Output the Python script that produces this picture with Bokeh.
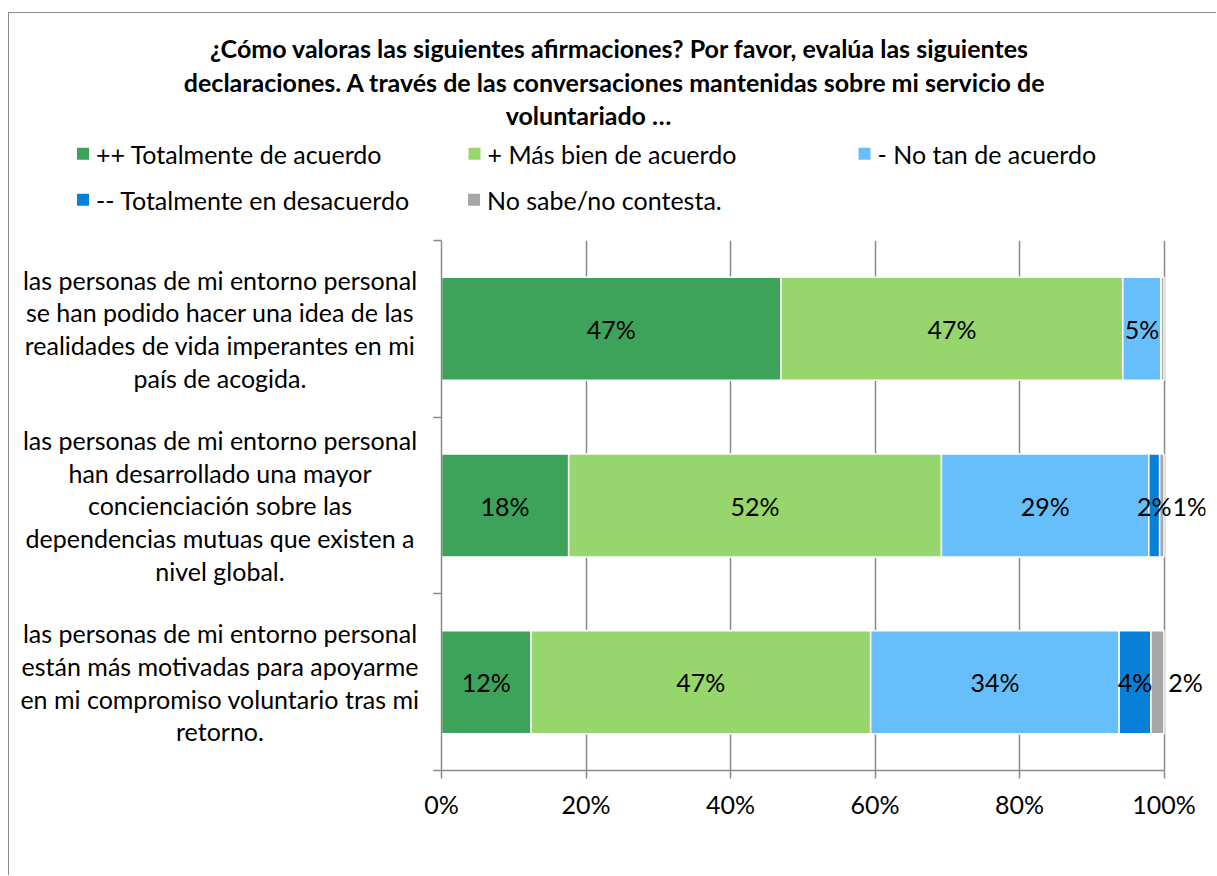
from bokeh.plotting import figure
from bokeh.layouts import column, row
from bokeh.models import (ColumnDataSource, Range1d, FixedTicker, LabelSet,
                          CustomJSTickFormatter)
from bokeh.core.properties import value
from bokeh.embed import file_html
from bokeh.resources import INLINE

# ---------------- data ----------------
title_lines = [
    "¿Cómo valoras las siguientes afirmaciones? Por favor, evalúa las siguientes",
    "declaraciones. A través de las conversaciones mantenidas sobre mi servicio de",
    "voluntariado …",
]
categories = [
    "las personas de mi entorno personal\nse han podido hacer una idea de las\nrealidades de vida imperantes en mi\npaís de acogida.",
    "las personas de mi entorno personal\nhan desarrollado una mayor\nconcienciación sobre las\ndependencias mutuas que existen a\nnivel global.",
    "las personas de mi entorno personal\nestán más motivadas para apoyarme\nen mi compromiso voluntario tras mi\nretorno.",
]
series_names = ["++ Totalmente de acuerdo", " + Más bien de acuerdo", " - No tan de acuerdo",
                " -- Totalmente en desacuerdo", "No sabe/no contesta."]
totalmente = [47.0, 17.6, 12.4]
mas_bien = [47.3, 51.6, 47.0]
no_tan = [5.3, 28.7, 34.4]
desacuerdo = [0.0, 1.5, 4.4]
no_sabe = [0.4, 0.6, 1.8]
x_ticks = [0, 20, 40, 60, 80, 100]
colors = ["#3DA35A", "#97D66C", "#66BFFA", "#0880D8", "#A6A6A6"]

series = [totalmente, mas_bien, no_tan, desacuerdo, no_sabe]
FONT = "Lato"
FS = "25px"
AX = "#8A8A8A"

ypos = [len(categories) - 0.5 - i for i in range(len(categories))]


def blank(fig):
    fig.outline_line_color = None
    fig.xgrid.visible = False
    fig.ygrid.visible = False
    fig.min_border = 0


# ---------------- top: title + legend ----------------
top = figure(width=1207, height=222, output_backend="svg", toolbar_location=None,
             x_range=Range1d(0, 1207), y_range=Range1d(222, 0),
             x_axis_location=None, y_axis_location=None)
blank(top)
top.text(x=[610, 605.5, 579], y=[34.5, 68.5, 101.5], text=title_lines,
         text_font=value(FONT), text_font_size=value("25px"), text_font_style="bold",
         text_align="center", text_baseline="middle", text_color="black")
leg_x = [73.5, 465, 855, 73.5, 464.5]
leg_y = [140.2, 140.2, 140.2, 186.2, 186.2]
top.scatter(x=leg_x, y=leg_y, marker="square", size=12, fill_color=colors, line_color=None)
top.text(x=[v + 13 for v in leg_x], y=leg_y, text=series_names,
         text_font=value(FONT), text_font_size=value(FS),
         text_align="left", text_baseline="middle", text_color="black")

# ---------------- left: category labels (frame aligned with main chart) ----------------
left_fig = figure(width=412, height=640, output_backend="svg", toolbar_location=None,
                  x_range=Range1d(0, 412), y_range=Range1d(0, 3),
                  x_axis_location=None, y_axis_location=None)
blank(left_fig)
left_fig.text(x=[210.5] * len(categories), y=ypos, text=categories,
              text_font=value(FONT), text_font_size=value(FS), text_line_height=1.095,
              text_align="center", text_baseline="middle", text_color="black")

# ---------------- main chart ----------------
p = figure(width=795, height=640, output_backend="svg", toolbar_location=None,
           x_range=Range1d(0, 764 / 7.225), y_range=Range1d(0, 3),
           min_border_left=20, min_border_right=11, min_border_top=5, min_border_bottom=105)
p.outline_line_color = None

left = [0.0] * len(categories)
label_x, label_y, label_t, label_off = [], [], [], []
for k, (vals, col) in enumerate(zip(series, colors)):
    right = [l + v for l, v in zip(left, vals)]
    src = ColumnDataSource(dict(y=ypos, left=left, right=right))
    p.hbar(y="y", left="left", right="right", height=0.583, source=src,
           fill_color=col, line_color="white", line_width=1.5)
    for i, v in enumerate(vals):
        if v >= 0.5:
            label_x.append(left[i] + v / 2)
            label_y.append(ypos[i])
            label_t.append(f"{round(v):d}%")
            label_off.append(28 if k == 4 else 0)
    left = right

lab_src = ColumnDataSource(dict(x=label_x, y=label_y, t=label_t, off=label_off))
p.add_layout(LabelSet(x="x", y="y", text="t", source=lab_src, x_offset="off",
                      text_align="center", text_baseline="middle",
                      text_font=value(FONT), text_font_size=value(FS), text_color="black"))

p.xaxis.ticker = FixedTicker(ticks=x_ticks)
p.xaxis.bounds = (0, 100)
p.xaxis.formatter = CustomJSTickFormatter(code="return tick + '%';")
p.xaxis.major_label_text_font = FONT
p.xaxis.major_label_text_font_size = FS
p.xaxis.major_label_text_color = "black"
p.xaxis.major_label_standoff = 10
p.xaxis.axis_line_color = AX
p.xaxis.axis_line_width = 1.5
p.xaxis.major_tick_line_color = AX
p.xaxis.major_tick_line_width = 1.5
p.xaxis.major_tick_out = 8
p.xaxis.major_tick_in = 0
p.xaxis.minor_tick_line_color = None

p.yaxis.ticker = FixedTicker(ticks=[0, 1, 2, 3])
p.yaxis.major_label_text_font_size = "0px"
p.yaxis.major_label_text_color = None
p.yaxis.major_label_standoff = 0
p.yaxis.axis_line_color = AX
p.yaxis.axis_line_width = 1.5
p.yaxis.major_tick_line_color = AX
p.yaxis.major_tick_line_width = 1.5
p.yaxis.major_tick_out = 8
p.yaxis.major_tick_in = 0
p.yaxis.minor_tick_line_color = None

p.xgrid.ticker = FixedTicker(ticks=x_ticks)
p.xgrid.grid_line_color = AX
p.xgrid.grid_line_width = 1.5
p.ygrid.grid_line_color = None

layout = column(top, row(left_fig, p))
layout.margin = (12, 0, 0, 8)
layout.styles = {"border-top": "1.5px solid #8A8A8A", "border-left": "1.5px solid #8A8A8A"}

open("out.html", "w").write(file_html(layout, INLINE))
